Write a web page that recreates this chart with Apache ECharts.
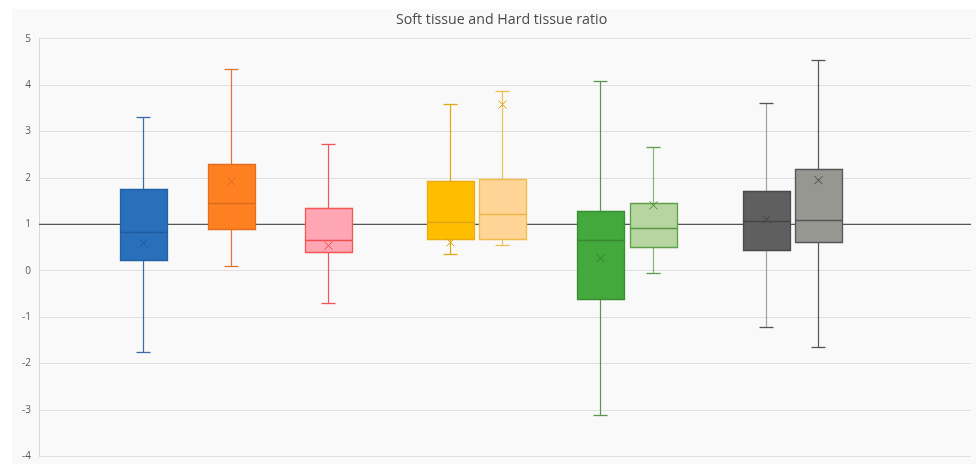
<!DOCTYPE html>
<html>
<head>
<meta charset="utf-8">
<script src="https://cdn.jsdelivr.net/npm/echarts@6/dist/echarts.min.js"></script>
<style>
html,body{margin:0;padding:0;background:#ffffff;}
#chart{width:976px;height:464px;}
</style>
</head>
<body>
<div id="chart"></div>
<script>
// ---- data ----
const titleText = 'Soft tissue and Hard tissue ratio';
const categories = ['Group 1', 'Group 2', 'Group 3', 'Group 4', 'Group 5', 'Group 6', 'Group 7', 'Group 8', 'Group 9'];
const slotPos = [4.02, 7.45, 11.2, 15.9, 17.9, 21.7, 23.75, 28.1, 30.1];
const minVals = [-1.76, 0.09, -0.70, 0.34, 0.54, -3.12, -0.06, -1.23, -1.65];
const q1Vals = [0.23, 0.89, 0.40, 0.66, 0.68, -0.62, 0.49, 0.42, 0.62];
const medianVals = [0.83, 1.45, 0.65, 1.03, 1.21, 0.65, 0.91, 1.06, 1.09];
const q3Vals = [1.75, 2.29, 1.35, 1.92, 1.97, 1.27, 1.44, 1.70, 2.19];
const maxVals = [3.31, 4.34, 2.71, 3.58, 3.87, 4.07, 2.66, 3.61, 4.54];
const meanVals = [0.59, 1.92, 0.54, 0.61, 3.58, 0.27, 1.41, 1.11, 1.95];
const yTicks = [-4, -3, -2, -1, 0, 1, 2, 3, 4, 5];
const referenceValue = 1;

// ---- styles ----
const fillColors = ['#2a6fba', '#ff8021', '#ffa6b4', '#ffbf00', '#ffd597', '#44a93c', '#b6d5a1', '#5f5f5f', '#979792'];
const borderColors = ['#2261a6', '#e3701f', '#f45656', '#e9ad12', '#f0bd4c', '#3a8e32', '#5fa04a', '#4a4a4a', '#555555'];
const whiskerColors = ['#3a6ba8', '#e07530', '#f25555', '#e0a714', '#efbf55', '#5a964a', '#86b872', '#a0a0a0', '#555555'];
const capColors = ['#3a6ba8', '#e07530', '#f25555', '#e0a714', '#efbf55', '#5a964a', '#5f9c4b', '#555555', '#555555'];
const medianColors = ['#1f5c9e', '#d9691c', '#f05050', '#e0a612', '#ebb645', '#36892e', '#5a9a45', '#444444', '#555555'];
const meanColors = ['#1f5592', '#d66a22', '#ee4a4a', '#e0a000', '#e0a000', '#2f7f2a', '#3f8a35', '#444444', '#444444'];

const boxData = categories.map((c, i) => [slotPos[i], minVals[i], q1Vals[i], medianVals[i], q3Vals[i], maxVals[i], meanVals[i], i]);

function crisp(v) { return Math.round(v - 0.5) + 0.5; }

function renderBox(params, api) {
  const x = api.value(0);
  const i = api.value(7);
  const pMin = api.coord([x, api.value(1)]);
  const pQ1 = api.coord([x, api.value(2)]);
  const pMed = api.coord([x, api.value(3)]);
  const pQ3 = api.coord([x, api.value(4)]);
  const pMax = api.coord([x, api.value(5)]);
  const pMean = api.coord([x, api.value(6)]);
  const cx = crisp(pMed[0]);
  const halfW = 23.5;
  const capHalf = 7;
  const xs = 4;
  const children = [];
  const wStyle = { stroke: whiskerColors[i], lineWidth: 1.2 };
  const cStyle = { stroke: capColors[i], lineWidth: 1.3 };
  children.push({ type: 'line', shape: { x1: cx, y1: pQ3[1], x2: cx, y2: pMax[1] }, style: wStyle });
  children.push({ type: 'line', shape: { x1: cx, y1: pQ1[1], x2: cx, y2: pMin[1] }, style: wStyle });
  children.push({ type: 'line', shape: { x1: cx - capHalf, y1: crisp(pMax[1]), x2: cx + capHalf, y2: crisp(pMax[1]) }, style: cStyle });
  children.push({ type: 'line', shape: { x1: cx - capHalf, y1: crisp(pMin[1]), x2: cx + capHalf, y2: crisp(pMin[1]) }, style: cStyle });
  children.push({
    type: 'rect',
    shape: { x: crisp(cx - halfW), y: crisp(pQ3[1]), width: halfW * 2, height: Math.round(pQ1[1] - pQ3[1]) },
    style: { fill: fillColors[i], stroke: borderColors[i], lineWidth: 1.3 }
  });
  children.push({ type: 'line', shape: { x1: cx - halfW, y1: crisp(pMed[1]), x2: cx + halfW, y2: crisp(pMed[1]) }, style: { stroke: medianColors[i], lineWidth: 1.3 } });
  children.push({ type: 'line', shape: { x1: cx - xs, y1: pMean[1] - xs, x2: cx + xs, y2: pMean[1] + xs }, style: { stroke: meanColors[i], lineWidth: 1 } });
  children.push({ type: 'line', shape: { x1: cx - xs, y1: pMean[1] + xs, x2: cx + xs, y2: pMean[1] - xs }, style: { stroke: meanColors[i], lineWidth: 1 } });
  return { type: 'group', children: children };
}

const chart = echarts.init(document.getElementById('chart'), null, { renderer: 'canvas' });
chart.setOption({
  backgroundColor: '#ffffff',
  animation: false,
  textStyle: { fontFamily: 'Open Sans' },
  graphic: [{
    type: 'rect', z: -100, silent: true,
    shape: { x: 12, y: 9, width: 964, height: 455 },
    style: { fill: '#f9f9f9' }
  }],
  title: {
    text: titleText,
    left: 391,
    top: 8,
    textStyle: { fontFamily: 'Open Sans', fontSize: 14.2, fontWeight: 'normal', color: '#4a4a4a' }
  },
  grid: { left: 39, right: 5, top: 38.7, bottom: 7.7, containLabel: false },
  xAxis: { type: 'value', min: 0, max: 36, show: false },
  yAxis: {
    type: 'value', min: -4, max: 5, interval: 1,
    axisLine: { show: true, lineStyle: { color: '#d9d9d9', width: 1 } },
    axisTick: { show: false },
    axisLabel: {
      color: '#595959', fontSize: 10, margin: 8, fontFamily: 'Open Sans',
      formatter: v => yTicks.includes(v) ? String(v) : ''
    },
    splitLine: { show: true, lineStyle: { color: '#e0e0e0', width: 1 } }
  },
  series: [
    {
      type: 'line', z: 1, silent: true, symbol: 'none',
      data: [[0, referenceValue], [36, referenceValue]],
      lineStyle: { color: '#555555', width: 1.3 }
    },
    {
      type: 'custom', z: 3,
      renderItem: renderBox,
      encode: { x: 0, y: [1, 2, 3, 4, 5] },
      data: boxData
    }
  ]
});
</script>
</body>
</html>
